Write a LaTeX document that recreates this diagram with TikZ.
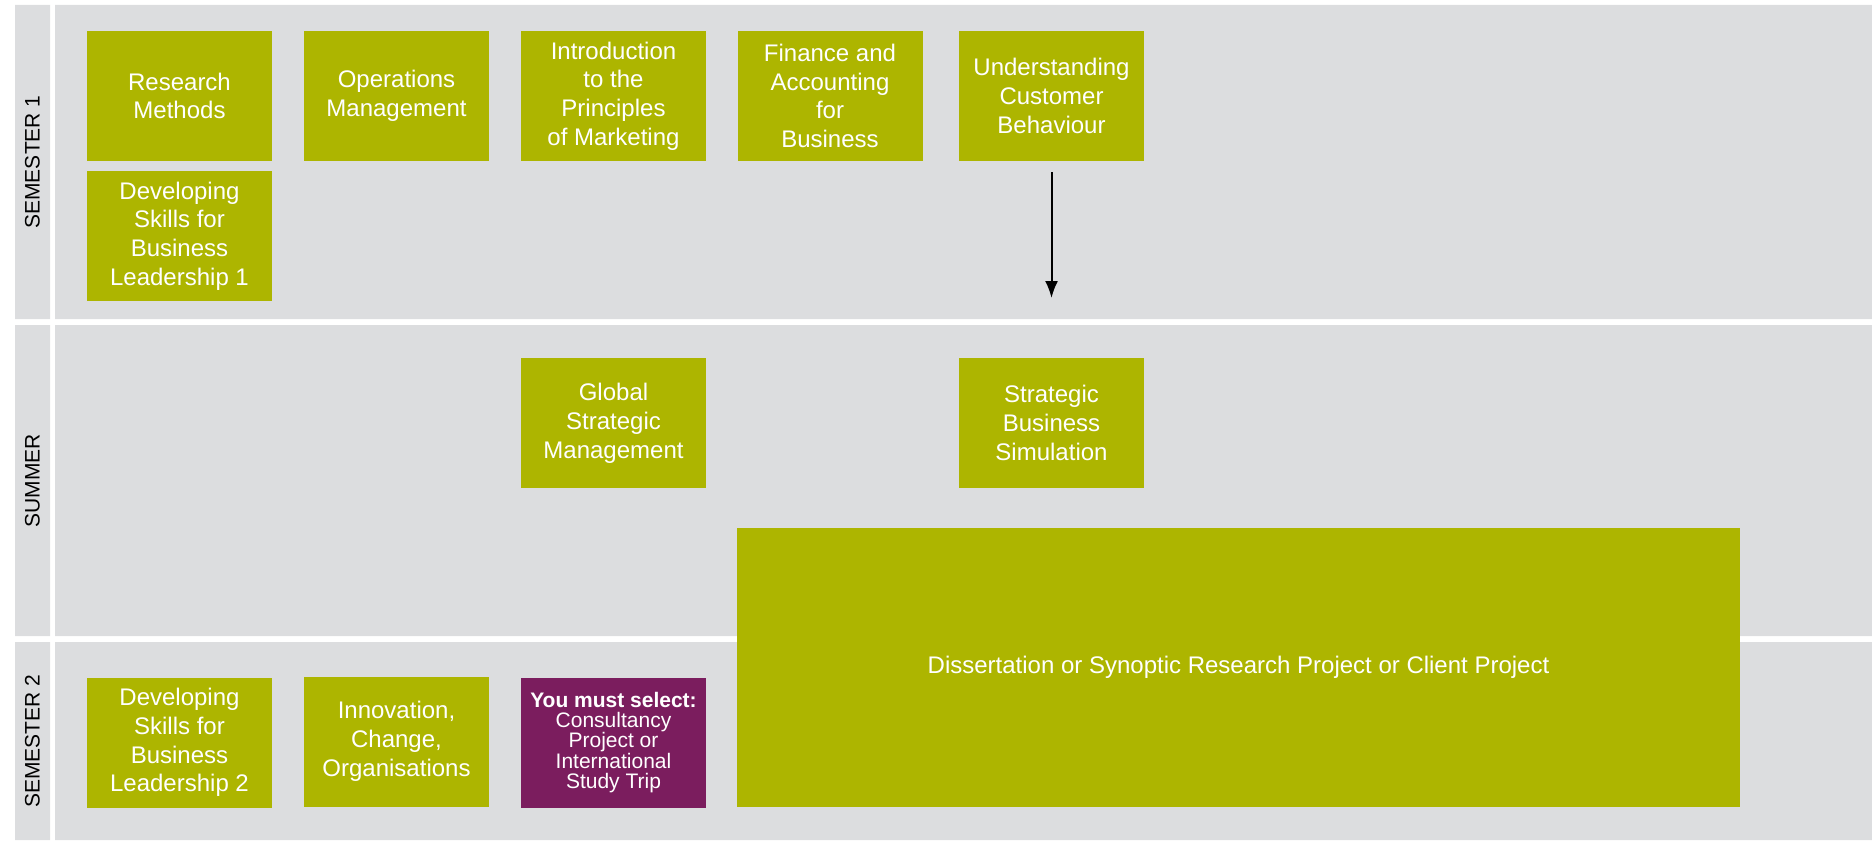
\documentclass[tikz,border=0pt]{standalone}
\usepackage{fontspec}
\setmainfont{Liberation Sans}
\usetikzlibrary{arrows.meta}

\definecolor{modgreen}{RGB}{173,181,0}
\definecolor{modplum}{RGB}{123,29,94}
\definecolor{bandgrey}{RGB}{220,221,223}

\tikzset{
  module/.style={fill=modgreen,text=white,align=center,inner sep=0pt,
    minimum width=92.5pt,minimum height=65pt,font=\fontsize{12}{14.4}\selectfont},
  choice/.style={module,fill=modplum,font=\fontsize{10.5}{10.2}\selectfont},
  term/.style={rotate=90,font=\fontsize{10.5}{12}\selectfont},
}

\begin{document}
\begin{tikzpicture}[x=0.5pt,y=-0.5pt,>={Latex[length=8.5pt,width=6.5pt]}]

\useasboundingbox (0,0) rectangle (1872,840);

% bands
\path [fill=bandgrey]
    (15,5) rectangle (50,319)   (55,5) rectangle (1872,319)
    (15,325) rectangle (50,636) (55,325) rectangle (1872,636)
    (15,642) rectangle (50,840) (55,642) rectangle (1872,840)
;

\node [term] (s1) at (32.5,162) {SEMESTER 1};
\node [term] (su) at (32.5,480.5) {SUMMER};
\node [term] (s2) at (32.5,741) {SEMESTER 2};

% semester 1
\node [module] (rm) at (179.5,96) {Research\\Methods};
\node [module] (om) at (396.5,96) {Operations\\Management};
\node [module] (ipm) at (613.5,96) {Introduction\\to the\\Principles\\of Marketing};
\node [module] (fab) at (830,96) {Finance and\\Accounting\\for\\Business};
\node [module] (ucb) at (1051.5,96) {Understanding\\Customer\\Behaviour};
\node [module] (dsl1) at (179.5,236) {Developing\\Skills for\\Business\\Leadership 1};

% summer
\node [module] (gsm) at (613.5,423) {Global\\Strategic\\Management};
\node [module] (sbs) at (1051.5,423) {Strategic\\Business\\Simulation};

% semester 2
\node [module] (dsl2) at (179.5,742.5) {Developing\\Skills for\\Business\\Leadership 2};
\node [module] (ico) at (396.5,741.5) {Innovation,\\Change,\\Organisations};
\node [choice] (sel) at (613.5,742.5) {\textbf{You must select:}\\Consultancy\\Project or\\International\\Study Trip};
\node [module,minimum width=501.5pt,minimum height=139.5pt] (diss) at (1238.5,667.5)
    {Dissertation or Synoptic Research Project or Client Project};

\coordinate (ucbout) at (1051.5,298);
\draw [->,line width=1pt,shorten <=5.5pt] (ucb.south) -- (ucbout);

\end{tikzpicture}
\end{document}
